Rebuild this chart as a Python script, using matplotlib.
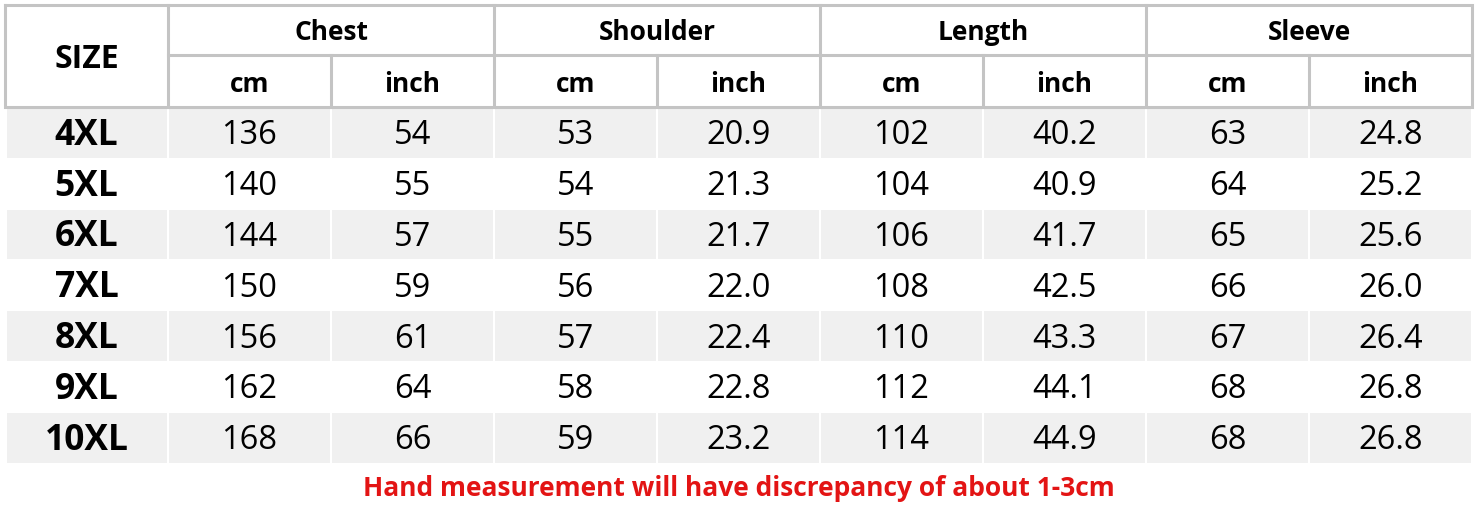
import matplotlib
matplotlib.use("Agg")
import matplotlib.pyplot as plt
from matplotlib.patches import Rectangle

# --- dados da tabela ---
groups = ["Chest", "Shoulder", "Length", "Sleeve"]
units = ["cm", "inch"]
sizes = ["4XL", "5XL", "6XL", "7XL", "8XL", "9XL", "10XL"]
chest_cm = ["136", "140", "144", "150", "156", "162", "168"]
chest_in = ["54", "55", "57", "59", "61", "64", "66"]
shoulder_cm = ["53", "54", "55", "56", "57", "58", "59"]
shoulder_in = ["20.9", "21.3", "21.7", "22.0", "22.4", "22.8", "23.2"]
length_cm = ["102", "104", "106", "108", "110", "112", "114"]
length_in = ["40.2", "40.9", "41.7", "42.5", "43.3", "44.1", "44.9"]
sleeve_cm = ["63", "64", "65", "66", "67", "68", "68"]
sleeve_in = ["24.8", "25.2", "25.6", "26.0", "26.4", "26.8", "26.8"]
note = "Hand measurement will have discrepancy of about 1-3cm"

columns = [chest_cm, chest_in, shoulder_cm, shoulder_in,
           length_cm, length_in, sleeve_cm, sleeve_in]

FONT = "Open Sans"
LINE = "#c4c4c4"
SHADE = "#f0f0f0"

fig = plt.figure(figsize=(14.8, 5.05), dpi=100)
ax = fig.add_axes([0, 0, 1, 1])
ax.set_xlim(0, 1480)
ax.set_ylim(505, 0)
ax.axis("off")

# geometria (pixels)
x0, x_size, col_w = 5, 168, 163.0
y_top, y_mid, y_hdr = 5, 55, 107
row_h = 50.8
xs = [x_size + i * col_w for i in range(len(columns) + 1)]
x_end = xs[-1]

# linhas zebradas
for r in range(len(sizes)):
    yr = y_hdr + r * row_h
    if r % 2 == 0:
        lefts = [x0 + 1] + xs[:-1]
        rights = [x_size] + xs[1:]
        for a, b in zip(lefts, rights):
            ax.add_patch(Rectangle((a + 1, yr + 1), b - a - 2, row_h - 1,
                                   facecolor=SHADE, edgecolor="none"))

# bordas do cabeçalho
lw = 2.2
ax.plot([x0, x_end, x_end, x0, x0], [y_top, y_top, y_hdr, y_hdr, y_top],
        color=LINE, lw=lw, solid_joinstyle="miter")
ax.plot([x_size, x_end], [y_mid, y_mid], color=LINE, lw=lw)
ax.plot([x_size, x_size], [y_top, y_hdr], color=LINE, lw=lw)
for i in range(1, len(columns)):
    top = y_top if i % 2 == 0 else y_mid
    ax.plot([xs[i], xs[i]], [top, y_hdr], color=LINE, lw=lw)

# textos do cabeçalho
ax.text((x0 + x_size) / 2, (y_top + y_hdr) / 2 + 3, "SIZE", ha="center",
        va="center", fontsize=23, fontweight="bold", family=FONT)
for g, name in enumerate(groups):
    cx = (xs[2 * g] + xs[2 * g + 2]) / 2
    ax.text(cx, (y_top + y_mid) / 2 + 3, name, ha="center", va="center",
            fontsize=19, fontweight="bold", family=FONT)
    for u, unit in enumerate(units):
        cxu = (xs[2 * g + u] + xs[2 * g + u + 1]) / 2
        ax.text(cxu, (y_mid + y_hdr) / 2 + 3, unit, ha="center", va="center",
                fontsize=19, fontweight="bold", family=FONT)

# corpo
for r, s in enumerate(sizes):
    cy = y_hdr + (r + 0.5) * row_h + 3.5
    ax.text((x0 + x_size) / 2, cy, s, ha="center", va="center",
            fontsize=25.5, fontweight="bold", family=FONT)
    for c, col in enumerate(columns):
        ax.text((xs[c] + xs[c + 1]) / 2, cy, col[r], ha="center", va="center",
                fontsize=23.5, family=FONT)

ax.text(739, 489, note, ha="center", va="center", color="#e31414",
        fontsize=19, fontweight="bold", family=FONT)

fig.savefig("out.png", dpi=100, facecolor="white")
